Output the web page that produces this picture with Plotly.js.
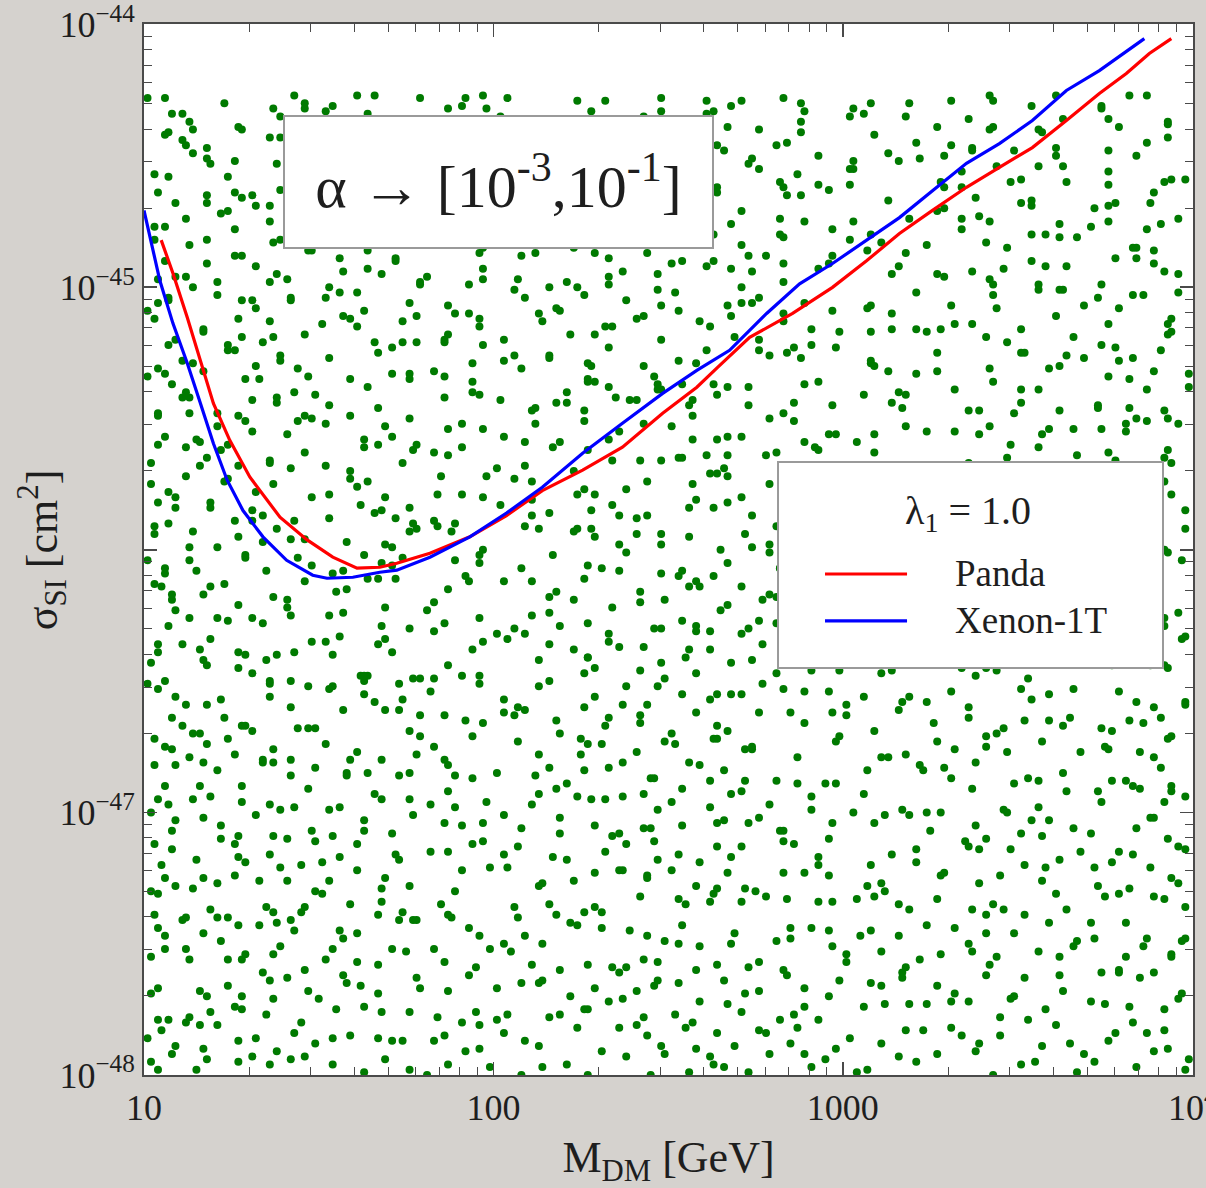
<!DOCTYPE html>
<html><head><meta charset="utf-8">
<script src="https://cdn.plot.ly/plotly-3.0.1.min.js"></script>
<style>html,body{margin:0;padding:0;background:#d5d2ce;}#chart{width:1206px;height:1188px;}</style>
</head><body><div id="chart"></div>
<script>
// Scan points: 100*log10(M/GeV)
const scanLogMass100 = [
214,131,367,289,102,245,338,176,399,263,118,307,192,351,227,146,384,279,163,321,108,256,372,199,138,295,
343,187,262,115,398,231,154,316,273,127,369,208,291,142,355,181,238,104,327,266,169,389,221,304,136,249,
121,302,258,387,174,236,149,345,213,392,109,278,331,196,154,361,244,127,318,285,167,376,203,116,339,269,
276,159,393,224,105,311,186,357,241,132,298,378,171,255,117,334,209,287,143,365,196,248,101,323,264,183,
358,107,233,184,319,271,145,396,204,126,345,259,168,382,293,137,227,312,112,252,375,191,286,155,331,216,
163,282,348,119,237,392,201,135,306,257,176,371,113,324,219,289,150,383,243,128,336,195,267,104,353,226,
296,214,124,374,187,317,253,102,341,229,162,389,276,141,308,201,362,118,247,332,179,284,136,397,222,158,
134,363,246,178,299,116,385,213,327,157,272,104,349,236,193,311,128,266,379,167,241,352,208,289,147,317,
247,175,318,106,362,283,139,227,394,152,301,211,366,124,258,337,186,112,273,344,199,234,381,161,297,129,
379,128,205,342,167,259,113,311,238,394,183,146,276,328,102,219,356,264,171,301,137,386,243,195,322,154,
111,269,336,193,244,381,157,308,122,224,367,285,138,203,349,177,296,106,254,372,161,316,231,142,398,281,
324,156,214,371,127,285,239,397,173,117,253,332,196,359,268,143,305,222,104,387,178,249,341,133,291,209,
185,341,278,137,392,206,112,263,319,168,231,375,146,297,352,104,216,284,188,337,253,121,364,159,309,226,
262,103,379,229,151,316,187,346,271,124,398,242,174,327,119,293,361,207,145,255,389,135,304,218,167,343,
149,296,223,358,109,267,394,168,236,311,141,204,373,283,117,339,251,189,126,382,214,161,328,272,102,244,
372,213,133,289,244,176,329,106,357,191,264,121,312,388,237,153,275,345,199,114,307,229,169,396,258,139,
127,336,259,194,368,145,283,221,108,314,398,173,246,136,352,207,293,161,377,232,103,321,187,268,149,339,
308,172,396,115,247,335,203,264,151,379,126,293,217,348,182,105,271,362,238,156,321,197,383,129,253,286,
203,384,141,273,325,117,236,191,357,266,154,309,389,122,245,177,338,282,109,219,366,163,297,132,351,234,
354,122,296,219,163,371,254,137,319,208,393,186,108,276,341,229,148,388,264,171,312,127,243,359,197,283,
168,247,373,143,306,198,102,337,279,224,156,364,251,119,291,385,176,213,328,136,268,347,107,232,394,189,
291,139,218,392,254,114,346,182,237,303,128,271,356,166,211,398,147,324,262,104,187,374,243,153,317,228,
116,323,189,256,377,233,164,298,109,353,212,137,281,391,176,245,322,128,266,349,194,103,307,221,383,158,
237,381,158,329,121,272,216,363,142,187,295,246,106,338,259,173,394,226,117,287,356,149,201,331,262,134,
385,207,113,264,341,168,299,126,231,376,152,318,194,272,134,357,241,103,313,183,225,389,274,161,341,118,
142,274,327,178,225,394,137,249,311,106,263,186,347,227,375,159,298,213,124,368,252,179,332,287,108,393,
316,197,251,108,363,285,149,218,377,242,131,336,203,114,289,169,359,232,301,147,386,264,123,209,346,176,
179,352,116,297,206,144,382,267,173,326,219,391,128,258,344,192,111,276,233,374,157,309,242,186,365,129,
264,118,238,384,153,319,226,101,354,289,166,247,306,182,398,136,271,351,207,122,283,336,174,254,147,398,
331,244,173,136,277,359,112,203,296,389,229,154,317,104,262,379,196,142,324,268,213,109,366,237,301,163,
106,388,291,227,162,248,341,179,135,258,314,371,191,283,127,226,305,163,392,249,131,274,187,353,216,334,
227,163,344,371,118,196,268,393,242,117,183,281,136,351,213,299,142,377,255,177,338,102,229,311,164,287,
372,293,127,209,331,138,183,256,328,167,397,223,262,111,368,156,243,324,104,197,271,386,152,236,348,119,
154,216,398,262,194,307,104,348,171,233,302,129,376,204,148,287,383,116,233,341,169,258,318,143,277,201,
298,131,273,157,386,234,318,142,219,361,107,334,169,246,392,127,211,276,351,186,113,297,216,374,134,258,
181,357,206,323,109,281,153,392,267,196,248,374,124,308,176,339,254,141,293,227,362,168,121,265,396,312,
345,108,258,137,294,218,376,164,322,105,281,193,337,256,141,226,307,388,183,117,349,242,279,158,203,371,
119,277,334,242,167,382,223,108,259,346,155,211,298,123,381,271,172,336,216,359,146,289,103,327,249,187,
253,189,148,393,319,129,267,351,196,282,377,238,115,174,323,208,129,263,397,154,231,316,374,106,292,168,
386,236,171,301,113,254,144,312,227,163,331,106,388,279,217,354,192,101,306,248,135,362,196,282,157,324,
134,316,289,178,356,197,281,236,103,373,248,169,313,142,265,114,347,228,171,292,398,121,256,339,209,272,
307,146,223,364,248,103,336,188,274,127,213,392,158,357,229,302,176,279,138,385,241,184,328,113,364,224,
211,371,107,256,134,327,172,398,143,234,296,119,267,189,341,258,131,388,202,314,166,244,109,291,352,183,
162,228,354,119,283,241,367,126,312,386,177,343,211,104,297,168,236,322,263,153,384,131,216,347,176,274,
279,394,185,332,206,161,109,264,347,211,132,286,371,244,153,318,385,124,169,238,302,197,369,257,112,339,
123,184,262,298,374,137,229,314,164,271,355,198,107,333,226,392,283,148,354,102,267,328,159,224,191,306,
348,267,136,217,152,309,392,201,122,336,242,163,288,376,118,174,227,304,187,266,136,393,278,142,318,253,
191,303,378,146,261,116,281,347,234,177,314,102,223,356,293,248,159,367,112,341,209,183,254,394,127,292,
267,121,209,381,324,178,144,233,366,298,187,257,129,309,167,342,106,212,289,381,243,116,332,171,226,359,
104,339,251,163,115,387,296,169,219,131,396,348,271,197,236,124,318,264,152,203,374,286,141,304,357,191,
318,212,148,286,339,235,113,373,159,257,104,221,186,384,317,149,273,392,239,121,167,336,218,264,104,146,
241,153,393,111,202,349,256,127,306,382,279,138,362,113,176,297,226,138,351,283,196,257,373,131,314,211,
159,387,327,233,176,293,194,342,108,246,164,313,229,147,356,208,382,171,112,247,321,143,289,227,183,399,
376,247,104,194,359,129,332,263,186,221,343,117,273,399,254,101,144,316,267,176,389,227,106,351,248,133,
228,126,279,347,253,378,167,114,291,369,206,174,139,233,327,288,197,362,124,308,153,374,261,194,132,284,
134,308,216,171,391,203,286,351,139,124,258,383,309,178,107,364,243,276,186,227,111,298,352,216,379,166,
299,174,366,127,232,109,243,187,376,314,151,222,361,291,248,136,324,103,341,262,196,137,234,308,157,393,
186,351,259,393,146,268,321,214,128,196,394,276,117,337,161,203,283,229,159,394,332,178,117,269,328,241,
363,104,193,276,308,161,379,131,253,343,219,142,321,189,271,356,107,187,226,307,274,369,152,206,344,101,
121,238,314,156,386,218,142,297,362,176,283,107,248,396,213,128,331,252,373,132,247,163,289,383,209,267,
247,356,132,221,164,329,271,118,207,392,136,316,181,237,343,296,168,346,114,197,293,224,141,327,261,179,
337,193,283,109,251,396,179,342,274,153,233,364,121,268,104,157,389,216,283,138,358,112,197,374,233,314,
172,271,147,362,208,137,223,384,103,318,164,249,297,151,384,229,139,263,324,172,212,302,262,156,106,347,
283,126,389,244,113,273,311,197,148,259,378,196,354,214,118,307,254,179,367,233,128,341,383,244,278,162,
106,339,217,174,303,358,124,237,334,206,282,126,171,391,263,198,371,122,244,289,173,247,136,211,327,396,
354,231,164,297,387,192,268,151,213,376,143,308,237,112,342,282,161,334,187,103,319,271,362,153,189,239,
216,141,372,126,236,334,109,288,178,241,354,196,264,329,159,376,118,206,296,351,144,226,104,293,378,132,
139,284,248,329,183,118,257,376,302,128,221,389,167,283,206,131,313,247,173,388,241,136,338,213,264,354,
302,398,187,141,273,209,348,162,232,363,107,167,334,257,394,181,243,138,328,217,119,364,287,174,126,218,
168,212,322,376,118,303,234,103,356,282,243,316,124,203,142,344,274,392,162,256,303,187,243,147,351,276,
384,157,281,203,349,171,387,227,146,193,331,252,376,139,284,216,106,361,219,148,337,251,111,313,198,241,
227,337,112,256,193,244,136,321,264,309,171,118,293,357,223,166,329,187,288,114,266,393,179,361,221,107,
113,263,343,187,302,128,354,197,111,376,261,204,154,336,114,248,393,137,267,202,146,327,243,288,374,164,
342,179,228,393,153,268,216,289,379,139,198,356,241,108,318,276,152,224,374,159,306,191,363,127,259,303,
192,308,143,271,361,101,319,248,166,224,387,146,283,179,261,197,342,288,106,343,232,161,382,204,123,331
];
// Scan points: 100*(log10(sigma/cm^2) + 48)
const scanLogSigma100 = [
3,7,1,8,5,0,9,2,6,4,6,2,9,4,0,7,3,8,1,5,8,1,5,3,9,6,0,4,7,2,2,9,4,7,1,5,8,0,3,6,5,0,7,2,8,3,6,9,4,1,4,8,
19,14,10,16,13,18,12,15,11,17,11,16,18,10,14,19,15,13,17,12,14,13,16,19,12,11,17,15,10,18,17,12,15,11,19,14,10,16,13,18,10,15,13,18,16,12,19,11,14,17,16,13,
25,21,28,22,27,24,20,29,23,26,22,28,24,26,21,29,25,27,20,23,27,20,23,25,28,22,26,21,29,24,29,25,21,23,26,20,24,28,22,27,23,26,29,20,22,25,28,24,27,21,21,25,
30,36,34,39,32,37,35,31,38,33,34,39,32,37,35,33,38,30,36,31,33,38,36,31,30,35,39,32,34,37,36,32,37,35,34,38,31,33,30,39,38,34,30,36,39,31,32,37,35,33,32,39,
43,47,41,48,45,40,49,42,46,44,46,42,49,44,40,47,43,48,41,45,48,41,45,43,49,46,40,44,47,42,42,49,44,47,41,45,48,40,43,46,45,40,47,42,48,43,46,49,44,41,44,48,
59,54,50,56,53,58,52,55,51,57,51,56,58,50,54,59,55,53,57,52,54,53,56,59,52,51,57,55,50,58,57,52,55,51,59,54,50,56,53,58,50,55,53,58,56,52,59,51,54,57,56,53,
65,61,68,62,67,64,60,69,63,66,62,68,64,66,61,69,65,67,60,63,67,60,63,65,68,62,66,61,69,64,69,65,61,63,66,60,64,68,62,67,63,66,69,60,62,65,68,64,67,61,61,65,
70,76,74,79,72,77,75,71,78,73,74,79,72,77,75,73,78,70,76,71,73,78,76,71,70,75,79,72,74,77,76,72,77,75,74,78,71,73,70,79,78,74,70,76,79,71,72,77,75,73,72,79,
83,87,81,88,85,80,89,82,86,84,86,82,89,84,80,87,83,88,81,85,88,81,85,83,89,86,80,84,87,82,82,89,84,87,81,85,88,80,83,86,85,80,87,82,88,83,86,89,84,81,84,88,
99,94,90,96,93,98,92,95,91,97,91,96,98,90,94,99,95,93,97,92,94,93,96,99,92,91,97,95,90,98,97,92,95,91,99,94,90,96,93,98,90,95,93,98,96,92,99,91,94,97,96,93,
105,101,108,102,107,104,100,109,103,106,102,108,104,106,101,109,105,107,100,103,107,100,103,105,108,102,106,101,109,104,109,105,101,103,106,100,104,108,102,107,103,106,109,100,102,105,108,104,107,101,101,105,
110,116,114,119,112,117,115,111,118,113,114,119,112,117,115,113,118,110,116,111,113,118,116,111,110,115,119,112,114,117,116,112,117,115,114,118,111,113,110,119,118,114,110,116,119,111,112,117,115,113,112,119,
123,127,121,128,125,120,129,122,126,124,126,122,129,124,120,127,123,128,121,125,128,121,125,123,129,126,120,124,127,122,122,129,124,127,121,125,128,120,123,126,125,120,127,122,128,123,126,129,124,121,124,128,
139,134,130,136,133,138,132,135,131,137,131,136,138,130,134,139,135,133,137,132,134,133,136,139,132,131,137,135,130,138,137,132,135,131,139,134,130,136,133,138,130,135,133,138,136,132,139,131,134,137,136,133,
145,141,148,142,147,144,140,149,143,146,142,148,144,146,141,149,145,147,140,143,147,140,143,145,148,142,146,141,149,144,149,145,141,143,146,140,144,148,142,147,143,146,149,140,142,145,148,144,147,141,141,145,
150,156,154,159,152,157,155,151,158,153,154,159,152,157,155,153,158,150,156,151,153,158,156,151,150,155,159,152,154,157,156,152,157,155,154,158,151,153,150,159,158,154,150,156,159,151,152,157,155,153,152,159,
163,167,161,168,165,160,169,162,166,164,166,162,169,164,160,167,163,168,161,165,168,161,165,163,169,166,160,164,167,162,162,169,164,167,161,165,168,160,163,166,165,160,167,162,168,163,166,169,164,161,164,168,
179,174,170,176,173,178,172,175,171,177,171,176,178,170,174,179,175,173,177,172,174,173,176,179,172,171,177,175,170,178,177,172,175,171,179,174,170,176,173,178,170,175,173,178,176,172,179,171,174,177,176,173,
185,181,188,182,187,184,180,189,183,186,182,188,184,186,181,189,185,187,180,183,187,180,183,185,188,182,186,181,189,184,189,185,181,183,186,180,184,188,182,187,183,186,189,180,182,185,188,184,187,181,181,185,
190,196,194,199,192,197,195,191,198,193,194,199,192,197,195,193,198,190,196,191,193,198,196,191,190,195,199,192,194,197,196,192,197,195,194,198,191,193,190,199,198,194,190,196,199,191,192,197,195,193,192,199,
203,207,201,208,205,200,209,202,206,204,206,202,209,204,200,207,203,208,201,205,208,201,205,203,209,206,200,204,207,202,202,209,204,207,201,205,208,200,203,206,205,200,207,202,208,203,206,209,204,201,204,208,
219,214,210,216,213,218,212,215,211,217,211,216,218,210,214,219,215,213,217,212,214,213,216,219,212,211,217,215,210,218,217,212,215,211,219,214,210,216,213,218,210,215,213,218,216,212,219,211,214,217,216,213,
225,221,228,222,227,224,220,229,223,226,222,228,224,226,221,229,225,227,220,223,227,220,223,225,228,222,226,221,229,224,229,225,221,223,226,220,224,228,222,227,223,226,229,220,222,225,228,224,227,221,221,225,
230,236,234,239,232,237,235,231,238,233,234,239,232,237,235,233,238,230,236,231,233,238,236,231,230,235,239,232,234,237,236,232,237,235,234,238,231,233,230,239,238,234,230,236,239,231,232,237,235,233,232,239,
243,247,241,248,245,240,249,242,246,244,246,242,249,244,240,247,243,248,241,245,248,241,245,243,249,246,240,244,247,242,242,249,244,247,241,245,248,240,243,246,245,240,247,242,248,243,246,249,244,241,244,248,
259,254,250,256,253,258,252,255,251,257,251,256,258,250,254,259,255,253,257,252,254,253,256,259,252,251,257,255,250,258,257,252,255,251,259,254,250,256,253,258,250,255,253,258,256,252,259,251,254,257,256,253,
265,261,268,262,267,264,260,269,263,266,262,268,264,266,261,269,265,267,260,263,267,260,263,265,268,262,266,261,269,264,269,265,261,263,266,260,264,268,262,267,263,266,269,260,262,265,268,264,267,261,261,265,
270,276,274,279,272,277,275,271,278,273,274,279,272,277,275,273,278,270,276,271,273,278,276,271,270,275,279,272,274,277,276,272,277,275,274,278,271,273,270,279,278,274,270,276,279,271,272,277,275,273,272,279,
283,287,281,288,285,280,289,282,286,284,286,282,289,284,280,287,283,288,281,285,288,281,285,283,289,286,280,284,287,282,282,289,284,287,281,285,288,280,283,286,285,280,287,282,288,283,286,289,284,281,284,288,
299,294,290,296,293,298,292,295,291,297,291,296,298,290,294,299,295,293,297,292,294,293,296,299,292,291,297,295,290,298,297,292,295,291,299,294,290,296,293,298,290,295,293,298,296,292,299,291,294,297,296,293,
305,301,308,302,307,304,300,309,303,306,302,308,304,306,301,309,305,307,300,303,307,300,303,305,308,302,306,301,309,304,309,305,301,303,306,300,304,308,302,307,303,306,309,300,302,305,308,304,307,301,301,305,
310,316,314,319,312,317,315,311,318,313,314,319,312,317,315,313,318,310,316,311,313,318,316,311,310,315,319,312,314,317,316,312,317,315,314,318,311,313,310,319,318,314,310,316,319,311,312,317,315,313,312,319,
323,327,321,328,325,320,329,322,326,324,326,322,329,324,320,327,323,328,321,325,328,321,325,323,329,326,320,324,327,322,322,329,324,327,321,325,328,320,323,326,325,320,327,322,328,323,326,329,324,321,324,328,
339,334,330,336,333,338,332,335,331,337,331,336,338,330,334,339,335,333,337,332,334,333,336,339,332,331,337,335,330,338,337,332,335,331,339,334,330,336,333,338,330,335,333,338,336,332,339,331,334,337,336,333,
345,341,348,342,347,344,340,349,343,346,342,348,344,346,341,349,345,347,340,343,347,340,343,345,348,342,346,341,349,344,349,345,341,343,346,340,344,348,342,347,343,346,349,340,342,345,348,344,347,341,341,345,
350,356,354,359,352,357,355,351,358,353,354,359,352,357,355,353,358,350,356,351,353,358,356,351,350,355,359,352,354,357,356,352,357,355,354,358,351,353,350,359,358,354,350,356,359,351,352,357,355,353,352,359,
363,367,361,368,365,360,369,362,366,364,366,362,369,364,360,367,363,368,361,365,368,361,365,363,369,366,360,364,367,362,362,369,364,367,361,365,368,360,363,366,365,360,367,362,368,363,366,369,364,361,364,368,
372,370,373,371,373,372,370,372,373,371,373,370,372,372,371,373,373,370,372,371,371,373,373,372,370,371
];

// Exclusion curves (M in GeV, sigma in cm^2)
const pandaMass = [11.2,12.1,13.3,14.5,15.8,17.6,20.1,24.5,29.3,34.7,40.7,47.3,52.9,65.8,85.6,109,138,180,234,305,382,438,541,718,934,1169,1452,1805,2258,2805,3486,4362,5420,6474,7534,8709];
const pandaSigma = [1.51e-45,1.13e-45,7.67e-46,5.26e-46,3.61e-46,2.61e-46,1.89e-46,1.33e-46,1.09e-46,9.37e-47,8.51e-47,8.58e-47,8.88e-47,9.70e-47,1.12e-46,1.35e-46,1.68e-46,2.01e-46,2.46e-46,3.31e-46,4.16e-46,4.95e-46,6.44e-46,7.94e-46,9.98e-46,1.26e-45,1.60e-45,1.96e-45,2.40e-45,2.86e-45,3.40e-45,4.31e-45,5.46e-45,6.51e-45,7.76e-45,8.84e-45];
const xenonMass = [10.0,11.1,12.1,13.3,14.5,15.8,17.3,19.2,21.9,25.6,30.4,33.4,39.6,47.3,52.9,65.8,85.6,109,138,180,234,305,382,474,605,752,934,1169,1452,1805,2258,2805,3486,4362,5420,7291];
const xenonSigma = [1.96e-45,1.06e-45,7.28e-46,5.13e-46,3.61e-46,2.54e-46,1.84e-46,1.41e-46,1.12e-46,9.12e-47,8.00e-47,7.79e-47,7.86e-47,8.21e-47,8.36e-47,9.37e-47,1.12e-46,1.38e-46,1.73e-46,2.33e-46,3.03e-46,3.94e-46,4.82e-46,5.75e-46,7.94e-46,1.03e-45,1.23e-45,1.51e-45,1.84e-45,2.33e-45,2.96e-45,3.52e-45,4.31e-45,5.61e-45,6.68e-45,8.84e-45];

const xTickVals = [10, 100, 1000, 10000];
const xTickText = ['10', '100', '1000', '10<sup>4</sup>'];
const yTickVals = [1e-48, 1e-47, 1e-46, 1e-45, 1e-44];
const yTickText = ['10<sup>−48</sup>', '10<sup>−47</sup>', '', '10<sup>−45</sup>', '10<sup>−44</sup>'];
const legendTitle = 'λ<sub>1</sub> = 1.0';
const seriesNames = ['Panda', 'Xenon-1T'];
const boxText = 'α → [10<sup>-3</sup>,10<sup>-1</sup>]';
const xTitle = 'M<sub>DM</sub> [GeV]';
const yTitle = 'σ<sub>SI</sub> [cm<sup>2</sup>]';

const scanMass = scanLogMass100.map(v => Math.pow(10, v / 100));
const scanSigma = scanLogSigma100.map(v => Math.pow(10, v / 100 - 48));

function minorVals(lo, hi) {
  const out = [];
  for (let d = lo; d < hi; d++) for (let k = 2; k <= 9; k++) out.push(k * Math.pow(10, d));
  return out;
}

const serif = '"Liberation Serif", "Times New Roman", serif';
const ink = '#1e1e1e';
const axisColor = '#4a4a4a';

function axisBase() {
  return {
    type: 'log', showgrid: false, zeroline: false, showline: true,
    linecolor: axisColor, linewidth: 2, mirror: 'allticks',
    ticks: 'inside', ticklen: 13, tickwidth: 1.5, tickcolor: axisColor,
    tickfont: {family: serif, size: 36, color: ink},
    tickmode: 'array', ticklabeloverflow: 'allow'
  };
}

const traces = [
  {x: scanMass, y: scanSigma, type: 'scatter', mode: 'markers',
   marker: {color: '#007a00', size: 8, line: {width: 0}}, showlegend: false, hoverinfo: 'skip'},
  {x: pandaMass, y: pandaSigma, type: 'scatter', mode: 'lines', name: seriesNames[0],
   line: {color: '#ff0000', width: 3.2}, showlegend: false},
  {x: xenonMass, y: xenonSigma, type: 'scatter', mode: 'lines', name: seriesNames[1],
   line: {color: '#0000ff', width: 3.2}, showlegend: false}
];

const xaxis = Object.assign(axisBase(), {
  range: [1, 4.002], tickvals: xTickVals, ticktext: xTickText,
  minor: {tickmode: 'array', tickvals: minorVals(1, 4), ticks: 'inside', ticklen: 8, tickwidth: 1, tickcolor: axisColor, showgrid: false},
  title: {text: xTitle, font: {family: serif, size: 44, color: ink}, standoff: 28}
});
const yaxis = Object.assign(axisBase(), {
  range: [-48, -43.998], tickvals: yTickVals, ticktext: yTickText,
  minor: {tickmode: 'array', tickvals: minorVals(-48, -44), ticks: 'inside', ticklen: 8, tickwidth: 1, tickcolor: axisColor, showgrid: false}
});

const legendLineY = [0.4767, 0.4320];
const layout = {
  width: 1206, height: 1188,
  margin: {l: 144, r: 13, t: 24, b: 113},
  paper_bgcolor: '#d5d2ce', plot_bgcolor: '#ffffff',
  showlegend: false,
  xaxis: xaxis, yaxis: yaxis,
  shapes: [
    {type: 'rect', xref: 'paper', yref: 'paper', x0: 0.6044, x1: 0.9714, y0: 0.3872, y1: 0.5833,
     fillcolor: '#ffffff', line: {color: '#9a9a9a', width: 2}, layer: 'above'},
    {type: 'line', xref: 'paper', yref: 'paper', x0: 0.6492, x1: 0.7274, y0: legendLineY[0], y1: legendLineY[0],
     line: {color: '#ff0000', width: 3.2}, layer: 'above'},
    {type: 'line', xref: 'paper', yref: 'paper', x0: 0.6492, x1: 0.7274, y0: legendLineY[1], y1: legendLineY[1],
     line: {color: '#0000ff', width: 3.2}, layer: 'above'}
  ],
  annotations: [
    {xref: 'paper', yref: 'paper', x: -0.097, y: 0.4995, xanchor: 'center', yanchor: 'middle', textangle: -90,
     text: yTitle, showarrow: false, font: {family: serif, size: 44, color: ink}},
    {xref: 'paper', yref: 'paper', x: 0.338, y: 0.8497, xanchor: 'center', yanchor: 'middle',
     text: boxText, showarrow: false, font: {family: serif, size: 60, color: ink},
     bgcolor: '#ffffff', bordercolor: '#9a9a9a', borderwidth: 2, borderpad: 0, width: 427, height: 130},
    {xref: 'paper', yref: 'paper', x: 0.7855, y: 0.5347, xanchor: 'center', yanchor: 'middle',
     text: legendTitle, showarrow: false, font: {family: serif, size: 40, color: ink}},
    {xref: 'paper', yref: 'paper', x: 0.7712, y: legendLineY[0], xanchor: 'left', yanchor: 'middle',
     text: seriesNames[0], showarrow: false, font: {family: serif, size: 37, color: ink}},
    {xref: 'paper', yref: 'paper', x: 0.7712, y: legendLineY[1], xanchor: 'left', yanchor: 'middle',
     text: seriesNames[1], showarrow: false, font: {family: serif, size: 37, color: ink}}
  ]
};

Plotly.newPlot('chart', traces, layout, {staticPlot: true});
</script>
</body></html>
